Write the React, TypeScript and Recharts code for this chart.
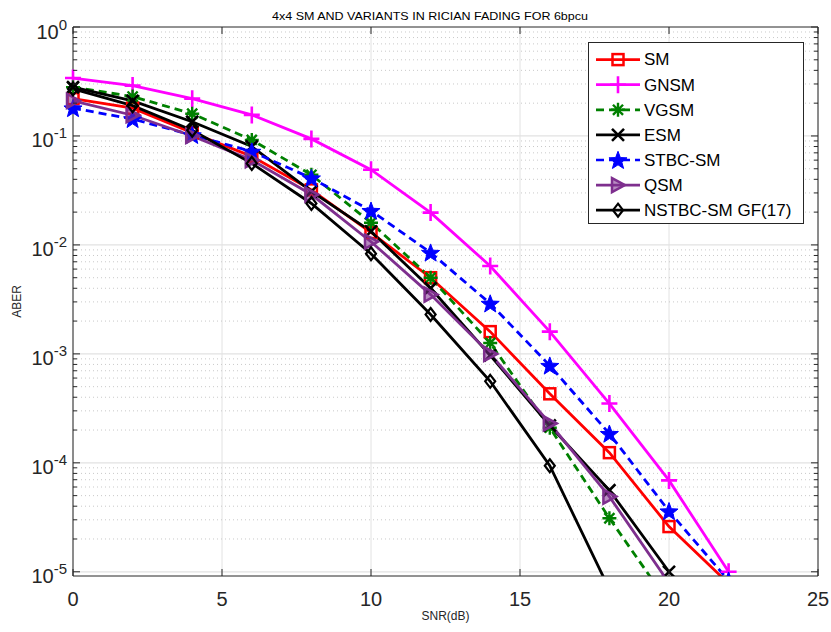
import { LineChart, Line, XAxis, YAxis, CartesianGrid, ReferenceLine, Legend } from "recharts";

// SNR points (dB)
const SNR = [0, 2, 4, 6, 8, 10, 12, 14, 16, 18, 20, 22];

// ABER per scheme
const SM = [0.22, 0.18, 0.107, 0.065, 0.032, 0.013, 0.005, 0.0016, 0.00043, 0.000124, 2.6e-5, 7.8e-6];
const GNSM = [0.34, 0.29, 0.22, 0.156, 0.094, 0.049, 0.0198, 0.0064, 0.0016, 0.00035, 6.9e-5, 1.0e-5];
const VGSM = [0.28, 0.23, 0.16, 0.092, 0.044, 0.016, 0.005, 0.00126, 0.00021, 3.1e-5, 5.1e-6, null];
const ESM = [0.28, 0.21, 0.135, 0.08, 0.031, 0.0133, 0.004, 0.00097, 0.00022, 5.6e-5, 1.0e-5, null];
const STBC_SM = [0.18, 0.143, 0.102, 0.072, 0.041, 0.0206, 0.0085, 0.0029, 0.00078, 0.000185, 3.6e-5, 8.3e-6];
const QSM = [0.21, 0.155, 0.1, 0.06, 0.029, 0.0107, 0.0035, 0.001, 0.00023, 4.9e-5, 7.9e-6, null];
const NSTBC_SM = [0.27, 0.19, 0.113, 0.056, 0.024, 0.0083, 0.0023, 0.00056, 9.4e-5, 6.9e-6, null, null];

const X_TICKS = [0, 5, 10, 15, 20, 25];
const DECADES = [1e-5, 1e-4, 1e-3, 1e-2, 1e-1, 1];
const MINOR_STEPS = [2, 3, 4, 5, 6, 7, 8, 9];
const Y_MIN = 9.15e-6;

const MINOR_TICKS = DECADES.slice(0, -1).flatMap((d) => MINOR_STEPS.map((m) => m * d));
const Y_TICKS = [...DECADES, ...MINOR_TICKS].sort((a, b) => a - b);

const W = 831;
const H = 632;
const MARGIN = { top: 27, right: 13, bottom: 0, left: 0 };
const Y_AXIS_W = 73;
const X_AXIS_H = 56;
const PLOT_TOP = MARGIN.top;
const PLOT_RIGHT = W - MARGIN.right;

const AXIS = "#262626";
const FONT = "'Liberation Sans', Arial, Helvetica, sans-serif";

const SERIES = [
  { key: "sm", name: "SM", values: SM, color: "#ff0000", dash: undefined, marker: "square" },
  { key: "gnsm", name: "GNSM", values: GNSM, color: "#ff00ff", dash: undefined, marker: "plus" },
  { key: "vgsm", name: "VGSM", values: VGSM, color: "#008000", dash: "8 5", marker: "asterisk" },
  { key: "esm", name: "ESM", values: ESM, color: "#000000", dash: undefined, marker: "x" },
  { key: "stbc", name: "STBC-SM", values: STBC_SM, color: "#0000ff", dash: "8 5", marker: "star" },
  { key: "qsm", name: "QSM", values: QSM, color: "#7e2f8e", dash: undefined, marker: "triangle" },
  { key: "nstbc", name: "NSTBC-SM GF(17)", values: NSTBC_SM, color: "#000000", dash: undefined, marker: "diamond" },
];

const data = SNR.map((snr, i) => {
  const row: Record<string, number | null> = { snr };
  SERIES.forEach((s) => (row[s.key] = s.values[i]));
  return row;
});

function starPoints(cx: number, cy: number, ro: number, ri: number) {
  const pts: string[] = [];
  for (let i = 0; i < 10; i++) {
    const r = i % 2 === 0 ? ro : ri;
    const a = -Math.PI / 2 + (i * Math.PI) / 5;
    pts.push(`${cx + r * Math.cos(a)},${cy + r * Math.sin(a)}`);
  }
  return pts.join(" ");
}

const Marker = ({ type, cx, cy, color }: { type: string; cx: number; cy: number; color: string }) => {
  switch (type) {
    case "square":
      return <rect x={cx - 5.5} y={cy - 5.5} width={11} height={11} fill="none" stroke={color} strokeWidth={2.5} />;
    case "plus":
      return <path d={`M${cx - 8},${cy}H${cx + 8}M${cx},${cy - 8.5}V${cy + 8.5}`} stroke={color} strokeWidth={2.6} fill="none" />;
    case "asterisk": {
      const r = 7;
      const d = r * 0.72;
      return (
        <path
          d={`M${cx - r},${cy}H${cx + r}M${cx},${cy - r}V${cy + r}M${cx - d},${cy - d}L${cx + d},${cy + d}M${cx - d},${cy + d}L${cx + d},${cy - d}`}
          stroke={color}
          strokeWidth={2.4}
          fill="none"
        />
      );
    }
    case "x": {
      const d = 6;
      return <path d={`M${cx - d},${cy - d}L${cx + d},${cy + d}M${cx - d},${cy + d}L${cx + d},${cy - d}`} stroke={color} strokeWidth={2.6} fill="none" />;
    }
    case "star":
      return <polygon points={starPoints(cx, cy + 0.8, 9.5, 4)} fill={color} stroke={color} strokeWidth={1} />;
    case "triangle":
      return (
        <polygon
          points={`${cx + 7},${cy} ${cx - 6},${cy - 7} ${cx - 6},${cy + 7}`}
          fill={color}
          fillOpacity={0.55}
          stroke={color}
          strokeWidth={2.5}
        />
      );
    case "diamond":
      return <polygon points={`${cx},${cy - 6.5} ${cx + 5},${cy} ${cx},${cy + 6.5} ${cx - 5},${cy}`} fill="none" stroke={color} strokeWidth={2.2} />;
    default:
      return null;
  }
};

const makeDot = (type: string, color: string, key: string) => (p: any) => {
  if (p.cx == null || p.cy == null || p.value == null) return <g key={`${key}-${p.index}`} />;
  return (
    <g key={`${key}-${p.index}`}>
      <Marker type={type} cx={p.cx} cy={p.cy} color={color} />
    </g>
  );
};

const XTick = ({ x, y, payload }: any) => (
  <g>
    <line x1={x} x2={x} y1={y} y2={y - 7} stroke={AXIS} />
    <line x1={x} x2={x} y1={PLOT_TOP} y2={PLOT_TOP + 7} stroke={AXIS} />
    <text x={x} y={y + 30} textAnchor="middle" fontSize={20} fill={AXIS} fontFamily={FONT}>
      {payload.value}
    </text>
  </g>
);

const YTick = ({ x, y, payload }: any) => {
  const exp = Math.log10(payload.value);
  const major = Math.abs(exp - Math.round(exp)) < 1e-9;
  const len = major ? 7 : 4;
  return (
    <g>
      <line x1={x} x2={x + len} y1={y} y2={y} stroke={AXIS} />
      <line x1={PLOT_RIGHT - len} x2={PLOT_RIGHT} y1={y} y2={y} stroke={AXIS} />
      {major && (
        <text x={x - 6} y={y + 11.5} textAnchor="end" fill={AXIS} fontFamily={FONT} fontSize={20}>
          <tspan>10</tspan>
          <tspan dy={-9} fontSize={15}>
            {Math.round(exp)}
          </tspan>
        </text>
      )}
    </g>
  );
};

const LegendBox = () => (
  <svg width={216} height={182} style={{ display: "block" }}>
    <rect x={0.5} y={0.5} width={215} height={181} fill="#ffffff" stroke={AXIS} strokeWidth={1} />
    {SERIES.map((s, i) => {
      const cy = 17.6 + i * 25.1;
      return (
        <g key={s.key}>
          <line x1={8} x2={52} y1={cy} y2={cy} stroke={s.color} strokeWidth={2.7} strokeDasharray={s.dash} />
          <Marker type={s.marker} cx={30} cy={cy} color={s.color} />
          <text x={56} y={cy + 5.8} fontSize={17} fill="#000" fontFamily={FONT}>
            {s.name}
          </text>
        </g>
      );
    })}
  </svg>
);

export default function App() {
  return (
    <div style={{ position: "absolute", left: 0, top: 0, width: W, height: H, background: "#fff", fontFamily: FONT }}>
      <LineChart width={W} height={H} data={data} margin={MARGIN}>
        <CartesianGrid horizontal={false} stroke="#e2e2e2" strokeWidth={1} />
        {MINOR_TICKS.map((v) => (
          <ReferenceLine key={`mn-${v}`} y={v} stroke="#c9c9c9" strokeDasharray="1 3" strokeWidth={1} />
        ))}
        {DECADES.slice(0, -1).map((v) => (
          <ReferenceLine key={`mj-${v}`} y={v} stroke="#e2e2e2" strokeWidth={1.2} />
        ))}
        <XAxis
          dataKey="snr"
          type="number"
          domain={[0, 25]}
          ticks={X_TICKS}
          interval={0}
          tickSize={0}
          tickMargin={0}
          tick={XTick}
          axisLine={{ stroke: AXIS }}
          height={X_AXIS_H}
          label={{ value: "SNR(dB)", position: "insideBottom", offset: 12, fontSize: 12, fill: AXIS }}
        />
        <YAxis
          type="number"
          scale="log"
          domain={[Y_MIN, 1]}
          allowDataOverflow
          ticks={Y_TICKS}
          interval={0}
          tickSize={0}
          tickMargin={0}
          tick={YTick}
          axisLine={{ stroke: AXIS }}
          width={Y_AXIS_W}
          label={{ value: "ABER", angle: -90, position: "insideLeft", offset: 17, fontSize: 12, fill: AXIS, style: { textAnchor: "middle" } }}
        />
        {SERIES.map((s) => (
          <Line
            key={s.key}
            type="linear"
            dataKey={s.key}
            name={s.name}
            stroke={s.color}
            strokeWidth={2.8}
            strokeDasharray={s.dash}
            dot={makeDot(s.marker, s.color, s.key)}
            activeDot={false}
            isAnimationActive={false}
          />
        ))}
        <ReferenceLine y={1} stroke={AXIS} strokeWidth={1} />
        <ReferenceLine x={25} stroke={AXIS} strokeWidth={1} />
        <Legend
          layout="vertical"
          align="center"
          verticalAlign="middle"
          content={LegendBox}
          wrapperStyle={{ top: 42, left: 588, width: 216, height: 182 }}
        />
      </LineChart>
      <svg width={W} height={30} style={{ position: "absolute", left: 0, top: 0, pointerEvents: "none" }}>
        <text
          x={430}
          y={20}
          textAnchor="middle"
          fontSize={11.5}
          fill="#000"
          fontFamily={FONT}
          textLength={316}
          lengthAdjust="spacingAndGlyphs"
        >
          4x4 SM AND VARIANTS IN RICIAN FADING FOR 6bpcu
        </text>
      </svg>
    </div>
  );
}
